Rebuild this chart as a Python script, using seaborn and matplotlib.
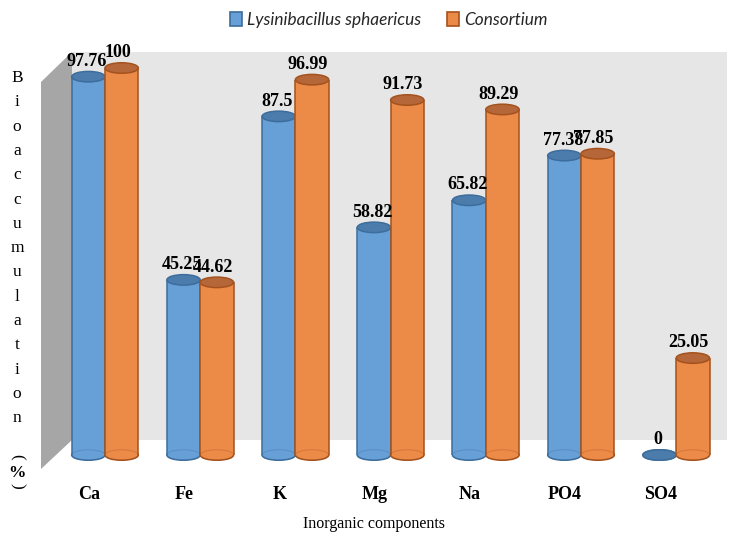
import matplotlib
matplotlib.use("Agg")
import matplotlib.pyplot as plt
from matplotlib.patches import Ellipse, Polygon, Rectangle, Patch
from matplotlib.transforms import ScaledTranslation
import pandas as pd
import seaborn as sns

# Bioaccumulation (%) of inorganic components
components = ["Ca", "Fe", "K", "Mg", "Na", "PO4", "SO4"]
lysinibacillus = [97.76, 45.25, 87.5, 58.82, 65.82, 77.38, 0]
consortium = [100, 44.62, 96.99, 91.73, 89.29, 77.85, 25.05]
series_names = ["Lysinibacillus sphaericus", "Consortium"]

df = pd.DataFrame({
    "component": components * 2,
    "value": lysinibacillus + consortium,
    "series": [series_names[0]] * len(components) + [series_names[1]] * len(components),
})

body = {series_names[0]: "#679fd7", series_names[1]: "#ec8a47"}
edge = {series_names[0]: "#3c6d9c", series_names[1]: "#a4521d"}
cap = {series_names[0]: "#4b7cab", series_names[1]: "#b6673a"}

W, H, DPI = 729, 533, 100
sns.set_theme(style="white")
fig = plt.figure(figsize=(W / DPI, H / DPI), dpi=DPI)
serif = ["Liberation Serif", "DejaVu Serif"]

# axes geometry (pixels): category i centred at 105 + 95.2 i, value 0 at y=455, 3.87 px per unit
x0, xstep, y0, ystep = 105.0, 95.2, 455.0, 3.87
ax_bottom_px = 478
ax = fig.add_axes([0, (H - ax_bottom_px) / H, 1, ax_bottom_px / H])


def dx(px):
    return (px - x0) / xstep


def dy(py):
    return (y0 - py) / ystep


sns.barplot(data=df, x="component", y="value", hue="series", order=components,
            hue_order=series_names, palette=body, width=0.7, dodge=True,
            edgecolor="none", linewidth=0, saturation=1, legend=False, ax=ax, zorder=3)
ax.set_xlim(dx(0), dx(W))
ax.set_ylim(dy(ax_bottom_px), dy(0))

# 3-D style walls
ax.add_patch(Polygon([(dx(41), dy(82)), (dx(72), dy(52)), (dx(72), dy(440)), (dx(41), dy(469))],
                     closed=True, facecolor="#a6a6a6", edgecolor="none", zorder=0))
ax.add_patch(Rectangle((dx(72), dy(440)), dx(727) - dx(72), dy(52) - dy(440),
                       facecolor="#e6e6e6", edgecolor="none", zorder=0))

ell_h = 10.5 / ystep
label_dx = {series_names[0]: -1, series_names[1]: -3}
bars = [p for p in ax.patches if isinstance(p, Rectangle) and p.get_zorder() == 3]
bar_series = [series_names[0]] * len(components) + [series_names[1]] * len(components)
for rect, s in zip(bars, bar_series):
    xl, w, v = rect.get_x(), rect.get_width(), rect.get_height()
    xc = xl + w / 2
    z = 3 if s == series_names[0] else 4
    rect.set_zorder(z + 0.2)
    # bottom of the cylinder
    ax.add_patch(Ellipse((xc, 0), w, ell_h, facecolor=body[s], edgecolor=edge[s],
                         linewidth=1.1, zorder=z + 0.1))
    ax.add_patch(Ellipse((xc, 0), w, ell_h, facecolor="none", edgecolor=edge[s],
                         linewidth=0.8, alpha=0.3, zorder=z + 0.3))
    # sides
    if v > 0:
        ax.plot([xl, xl], [0, v], color=edge[s], linewidth=1.1, zorder=z + 0.3,
                solid_capstyle="butt")
        ax.plot([xl + w, xl + w], [0, v], color=edge[s], linewidth=1.1, zorder=z + 0.3,
                solid_capstyle="butt")
    # top of the cylinder
    ax.add_patch(Ellipse((xc, v), w, ell_h, facecolor=cap[s], edgecolor=edge[s],
                         linewidth=1.1, zorder=z + 0.4))
    ax.annotate(f"{v:g}", (xc, v), xytext=(label_dx[s], 11), textcoords="offset points",
                ha="center", va="center", fontsize=13, fontweight="bold",
                family=serif, color="black", zorder=10)

for sp in ax.spines.values():
    sp.set_visible(False)
ax.set_yticks([])
ax.set_xlabel("")
ax.set_ylabel("")
ax.set_xticks(range(len(components)))
ax.set_xticklabels(components, fontsize=13, fontweight="bold", family=serif, color="black")
ax.tick_params(axis="x", length=0, pad=6)
shift = ScaledTranslation(-16 / DPI, 0, fig.dpi_scale_trans)
for lab in ax.get_xticklabels():
    lab.set_transform(lab.get_transform() + shift)

# x-axis title
fig.text(374 / W, 1 - 524 / H, "Inorganic components", ha="center", va="center",
         fontsize=11.5, family=serif, color="black")

# stacked vertical y-axis title
word = "Bioaccumulation"
for i, ch in enumerate(word):
    fig.text(17 / W, 1 - (78 + i * 24.3) / H, ch, ha="center", va="center",
             fontsize=12.5, family=serif, color="black")
for ch, py, rot in [("(", 457, -90), ("%", 473, 0), (")", 486, -90)]:
    fig.text(17 / W, 1 - py / H, ch, ha="center", va="center", rotation=rot,
             fontsize=12.5, fontweight="bold" if ch == "%" else "normal",
             family=serif, color="black")

handles = [Patch(facecolor=body[s], edgecolor=edge[s], linewidth=1.2) for s in series_names]
fig.legend(handles, series_names, loc="center", bbox_to_anchor=(389 / W, 1 - 20 / H),
           ncol=2, frameon=False, handlelength=0.7, handleheight=0.9, handletextpad=0.3,
           columnspacing=1.5, prop={"family": ["Lato", "DejaVu Sans"], "style": "italic",
                                    "size": 12.4})

fig.savefig("out.png", dpi=DPI)
